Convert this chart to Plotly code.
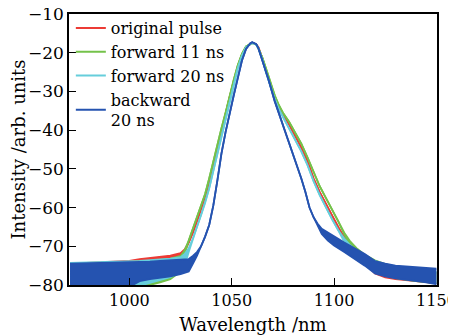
import plotly.graph_objects as go

# ---------------- data ----------------
wl_fwd = [971, 980, 990, 1000, 1005, 1010, 1015, 1020, 1025, 1027, 1029, 1031, 1033, 1035, 1037, 1039,
          1041, 1043, 1045, 1047, 1049, 1051, 1053, 1055, 1057, 1059, 1060, 1061, 1062, 1063, 1065,
          1067, 1069, 1071, 1073, 1075, 1078, 1081, 1084, 1087, 1090, 1093, 1096, 1099, 1102, 1105,
          1108, 1111, 1115, 1120, 1125, 1130, 1140, 1150]

red_top = [-74.5, -74.3, -74.2, -73.8, -73.3, -73.0, -72.8, -72.4, -71.8, -70.8, -69.0, -66.5, -63.5,
           -60.5, -57.5, -53.5, -49.0, -45.0, -40.5, -36.0, -31.5, -27.5, -23.5, -20.5, -18.5, -17.8,
           -17.4, -17.6, -17.9, -18.6, -21.5, -25.0, -28.5, -31.5, -34.0, -36.0, -38.5, -41.5, -44.5,
           -48.0, -52.5, -56.0, -59.0, -62.0, -65.0, -67.5, -69.5, -71.0, -72.5, -73.8, -74.8, -75.5,
           -76.3, -76.8]
red_bot = [-80.5, -80.5, -80.0, -78.5, -77.5, -76.5, -75.5, -75.0, -74.0, -71.5, -69.0, -66.5, -63.5,
           -60.5, -57.5, -53.5, -49.0, -45.0, -40.5, -36.0, -31.5, -27.5, -23.5, -20.5, -18.5, -17.8,
           -17.4, -17.6, -17.9, -18.6, -21.5, -25.0, -28.5, -31.5, -34.0, -36.0, -38.5, -41.5, -44.5,
           -48.0, -52.5, -56.0, -59.0, -62.0, -65.0, -68.5, -70.8, -72.5, -74.5, -77.0, -78.0, -78.5,
           -79.0, -79.5]

green_top = [-74.8, -74.6, -74.4, -74.2, -74.0, -73.8, -73.5, -73.2, -72.5, -71.0, -68.5, -65.5, -62.5,
             -59.5, -56.5, -52.5, -48.0, -44.0, -39.5, -35.5, -31.0, -27.0, -23.2, -20.3, -18.4, -17.8,
             -17.5, -17.6, -18.0, -18.8, -21.3, -24.5, -28.0, -31.0, -33.5, -35.5, -37.8, -40.8, -43.5,
             -47.0, -51.0, -54.5, -57.5, -60.5, -63.5, -66.5, -68.8, -70.5, -72.2, -73.6, -74.6, -75.3,
             -76.2, -76.8]
green_bot = [-80.5, -80.5, -80.5, -80.5, -81.0, -80.0, -79.3, -78.5, -76.5, -72.0, -68.5, -65.5, -62.5,
             -59.5, -56.5, -52.5, -48.0, -44.0, -39.5, -35.5, -31.0, -27.0, -23.2, -20.3, -18.4, -17.8,
             -17.5, -17.6, -18.0, -18.8, -21.3, -24.5, -28.0, -31.0, -33.5, -35.5, -37.8, -40.8, -43.5,
             -47.0, -51.0, -54.5, -57.5, -60.5, -63.5, -67.0, -69.8, -71.8, -73.8, -76.0, -77.5, -78.2,
             -79.0, -79.5]

cyan_top = [-74.3, -74.2, -74.1, -74.0, -73.8, -73.6, -73.4, -73.2, -72.8, -72.0, -70.5, -68.0, -65.0,
            -62.0, -58.8, -55.0, -50.5, -46.0, -41.5, -37.0, -32.5, -28.2, -24.0, -20.8, -18.6, -17.8,
            -17.5, -17.6, -18.0, -18.8, -21.8, -25.5, -29.0, -32.0, -34.6, -36.6, -39.2, -42.3, -45.5,
            -49.0, -53.2, -56.8, -60.0, -63.0, -65.8, -68.0, -69.8, -71.2, -72.6, -73.8, -74.6, -75.2,
            -76.0, -76.6]
cyan_bot = [-80.5, -80.5, -80.5, -80.5, -80.2, -79.5, -78.8, -78.0, -76.5, -75.0, -71.5, -68.0, -65.0,
            -62.0, -58.8, -55.0, -50.5, -46.0, -41.5, -37.0, -32.5, -28.2, -24.0, -20.8, -18.6, -17.8,
            -17.5, -17.6, -18.0, -18.8, -21.8, -25.5, -29.0, -32.0, -34.6, -36.6, -39.2, -42.3, -45.5,
            -49.0, -53.2, -56.8, -60.0, -63.0, -65.8, -68.8, -70.8, -72.5, -74.2, -76.0, -77.2, -78.0,
            -78.8, -79.3]

wl_bwd = [971, 980, 990, 1000, 1005, 1010, 1015, 1020, 1025, 1029, 1031, 1033, 1035, 1037, 1039, 1041,
          1043, 1045, 1047, 1049, 1051, 1053, 1055, 1057, 1059, 1060, 1061, 1062, 1063, 1065, 1068,
          1071, 1074, 1077, 1080, 1082, 1084, 1086, 1088, 1090, 1092, 1094, 1097, 1100, 1105, 1110,
          1115, 1120, 1125, 1130, 1135, 1140, 1145, 1150]
blue_top = [-74.5, -74.4, -74.4, -74.3, -74.1, -74.0, -73.8, -73.6, -73.4, -73.3, -72.5, -71.5, -70.0,
            -67.5, -64.5, -59.5, -53.0, -46.0, -40.5, -35.5, -31.0, -26.5, -22.0, -19.0, -17.6, -17.3,
            -17.5, -17.8, -18.8, -22.0, -27.0, -32.5, -37.0, -41.5, -46.5, -49.5, -52.5, -56.0, -60.0,
            -62.5, -64.2, -65.5, -66.5, -67.5, -69.0, -70.5, -72.0, -73.8, -74.5, -75.0, -75.2, -75.4,
            -75.6, -75.8]
blue_bot = [-81.0, -81.0, -81.0, -80.5, -79.0, -78.5, -78.2, -77.8, -77.2, -76.5, -74.5, -72.5, -70.0,
            -67.5, -64.5, -59.5, -53.0, -46.0, -40.5, -35.5, -31.0, -26.5, -22.0, -19.0, -17.6, -17.3,
            -17.5, -17.8, -18.8, -22.0, -27.0, -32.5, -37.0, -41.5, -46.5, -49.5, -52.5, -56.0, -60.0,
            -62.5, -64.8, -66.8, -68.5, -69.8, -71.5, -73.2, -75.0, -77.0, -77.8, -78.3, -78.6, -78.9,
            -79.3, -79.8]

names = ["original pulse", "forward 11 ns", "forward 20 ns", "backward<br>20 ns"]
colors = ["#ec3b35", "#74c24a", "#66cedb", "#2553b0"]

x_ticks = [1000, 1050, 1100, 1150]
y_ticks = [-80, -70, -60, -50, -40, -30, -20, -10]

series = [
    (wl_fwd, red_top, red_bot),
    (wl_fwd, green_top, green_bot),
    (wl_fwd, cyan_top, cyan_bot),
    (wl_bwd, blue_top, blue_bot),
]

fig = go.Figure()
for (wl, top, bot), col in zip(series, colors):
    fig.add_trace(go.Scatter(x=wl, y=bot, mode="lines", line=dict(color=col, width=1.8),
                             showlegend=False, hoverinfo="skip"))
    fig.add_trace(go.Scatter(x=wl, y=top, mode="lines", line=dict(color=col, width=1.8),
                             fill="tonexty", fillcolor=col, showlegend=False, hoverinfo="skip"))

for name, col in zip(names, colors):
    fig.add_trace(go.Scatter(x=[None], y=[None], mode="lines", name=name,
                             line=dict(color=col, width=2)))

font_family = "DejaVu Serif"
# the page body adds an 8 px offset, so the figure is sized to the visible area
fig.update_layout(
    width=448, height=327,
    margin=dict(l=61, r=19, t=6, b=50, autoexpand=False),
    paper_bgcolor="white", plot_bgcolor="white",
    font=dict(family=font_family, size=17, color="black"),
    legend=dict(x=0.005, y=1.011, xanchor="left", yanchor="top", bgcolor="rgba(0,0,0,0)",
                font=dict(family=font_family, size=16, color="black"), tracegroupgap=0,
                traceorder="normal"),
    xaxis=dict(range=[970.5, 1150.3], tickvals=x_ticks, ticks="inside", ticklen=7, tickwidth=1.2,
               tickcolor="black", showline=True, linecolor="black", linewidth=1.5, mirror=True,
               showgrid=False, zeroline=False, ticklabeloverflow="allow", automargin=False,
               tickfont=dict(size=16),
               title=dict(text="Wavelength /nm", font=dict(size=18))),
    yaxis=dict(range=[-80, -10], tickvals=y_ticks, ticks="inside", ticklen=7, tickwidth=1.2,
               tickcolor="black", showline=True, linecolor="black", linewidth=1.5, mirror=True,
               showgrid=False, zeroline=False, automargin=False, ticklabeloverflow="allow",
               title=dict(text="Intensity /arb. units", font=dict(size=18))),
)

fig.write_html("out.html")
